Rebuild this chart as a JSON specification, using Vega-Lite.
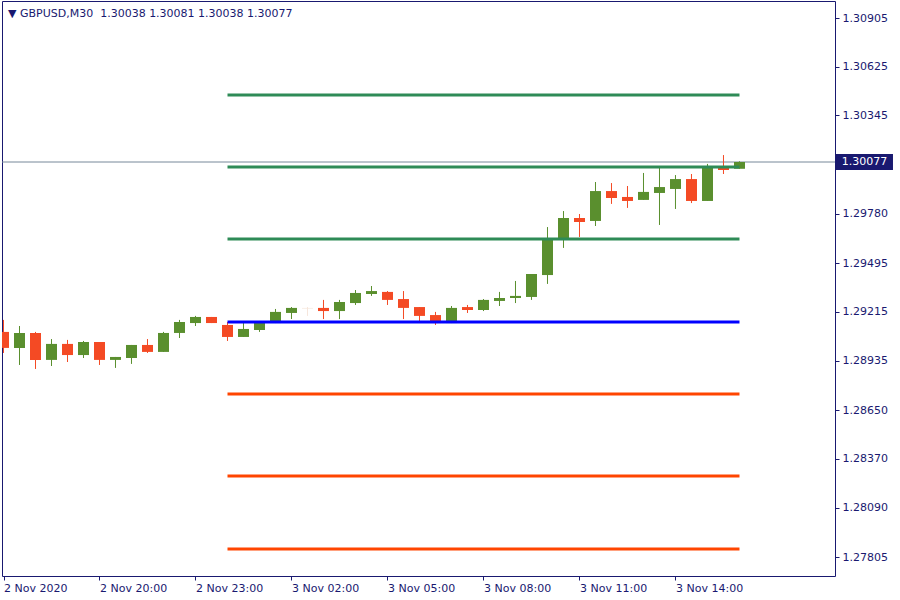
{
  "$schema": "https://vega.github.io/schema/vega-lite/v6.json",
  "width": 833,
  "height": 575,
  "autosize": "none",
  "padding": {"left": 2, "top": 1, "right": 65, "bottom": 24},
  "background": "white",
  "config": {
    "view": {"stroke": "#191970", "strokeWidth": 1},
    "font": "DejaVu Sans"
  },
  "title": {
    "text": "▼ GBPUSD,M30\u00a0\u00a01.30038 1.30081 1.30038 1.30077",
    "orient": "top",
    "anchor": "start",
    "frame": "group",
    "baseline": "top",
    "offset": -18,
    "dx": 6,
    "fontSize": 11,
    "fontWeight": "normal",
    "color": "#191970",
    "font": "DejaVu Sans"
  },
  "resolve": {"scale": {"color": "independent"}},
  "datasets": {
    "candles": [
      {"t": "2020-11-02T17:00:00Z", "o": 1.29100, "h": 1.29169, "l": 1.28979, "c": 1.29008, "dir": "down"},
      {"t": "2020-11-02T17:30:00Z", "o": 1.29008, "h": 1.29134, "l": 1.28910, "c": 1.29094, "dir": "up"},
      {"t": "2020-11-02T18:00:00Z", "o": 1.29094, "h": 1.29100, "l": 1.28887, "c": 1.28939, "dir": "down"},
      {"t": "2020-11-02T18:30:00Z", "o": 1.28939, "h": 1.29059, "l": 1.28904, "c": 1.29031, "dir": "up"},
      {"t": "2020-11-02T19:00:00Z", "o": 1.29031, "h": 1.29054, "l": 1.28927, "c": 1.28967, "dir": "down"},
      {"t": "2020-11-02T19:30:00Z", "o": 1.28967, "h": 1.29048, "l": 1.28950, "c": 1.29042, "dir": "up"},
      {"t": "2020-11-02T20:00:00Z", "o": 1.29042, "h": 1.29042, "l": 1.28910, "c": 1.28939, "dir": "down"},
      {"t": "2020-11-02T20:30:00Z", "o": 1.28939, "h": 1.28956, "l": 1.28893, "c": 1.28956, "dir": "up"},
      {"t": "2020-11-02T21:00:00Z", "o": 1.28950, "h": 1.29025, "l": 1.28916, "c": 1.29025, "dir": "up"},
      {"t": "2020-11-02T21:30:00Z", "o": 1.29025, "h": 1.29059, "l": 1.28979, "c": 1.28985, "dir": "down"},
      {"t": "2020-11-02T22:00:00Z", "o": 1.28985, "h": 1.29100, "l": 1.28985, "c": 1.29094, "dir": "up"},
      {"t": "2020-11-02T22:30:00Z", "o": 1.29094, "h": 1.29169, "l": 1.29065, "c": 1.29157, "dir": "up"},
      {"t": "2020-11-02T23:00:00Z", "o": 1.29151, "h": 1.29192, "l": 1.29134, "c": 1.29186, "dir": "up"},
      {"t": "2020-11-02T23:30:00Z", "o": 1.29186, "h": 1.29186, "l": 1.29151, "c": 1.29151, "dir": "down"},
      {"t": "2020-11-03T00:00:00Z", "o": 1.29140, "h": 1.29157, "l": 1.29048, "c": 1.29071, "dir": "down"},
      {"t": "2020-11-03T00:30:00Z", "o": 1.29071, "h": 1.29151, "l": 1.29071, "c": 1.29117, "dir": "up"},
      {"t": "2020-11-03T01:00:00Z", "o": 1.29111, "h": 1.29163, "l": 1.29100, "c": 1.29157, "dir": "up"},
      {"t": "2020-11-03T01:30:00Z", "o": 1.29151, "h": 1.29232, "l": 1.29151, "c": 1.29215, "dir": "up"},
      {"t": "2020-11-03T02:00:00Z", "o": 1.29209, "h": 1.29243, "l": 1.29174, "c": 1.29238, "dir": "up"},
      {"t": "2020-11-03T02:30:00Z", "o": 1.29238, "h": 1.29243, "l": 1.29192, "c": 1.29234, "dir": "faint"},
      {"t": "2020-11-03T03:00:00Z", "o": 1.29238, "h": 1.29284, "l": 1.29174, "c": 1.29220, "dir": "down"},
      {"t": "2020-11-03T03:30:00Z", "o": 1.29220, "h": 1.29284, "l": 1.29174, "c": 1.29272, "dir": "up"},
      {"t": "2020-11-03T04:00:00Z", "o": 1.29266, "h": 1.29341, "l": 1.29255, "c": 1.29324, "dir": "up"},
      {"t": "2020-11-03T04:30:00Z", "o": 1.29318, "h": 1.29364, "l": 1.29307, "c": 1.29335, "dir": "up"},
      {"t": "2020-11-03T05:00:00Z", "o": 1.29330, "h": 1.29335, "l": 1.29255, "c": 1.29284, "dir": "down"},
      {"t": "2020-11-03T05:30:00Z", "o": 1.29289, "h": 1.29335, "l": 1.29174, "c": 1.29238, "dir": "down"},
      {"t": "2020-11-03T06:00:00Z", "o": 1.29243, "h": 1.29243, "l": 1.29157, "c": 1.29192, "dir": "down"},
      {"t": "2020-11-03T06:30:00Z", "o": 1.29197, "h": 1.29215, "l": 1.29140, "c": 1.29151, "dir": "down"},
      {"t": "2020-11-03T07:00:00Z", "o": 1.29151, "h": 1.29249, "l": 1.29151, "c": 1.29238, "dir": "up"},
      {"t": "2020-11-03T07:30:00Z", "o": 1.29243, "h": 1.29255, "l": 1.29209, "c": 1.29226, "dir": "down"},
      {"t": "2020-11-03T08:00:00Z", "o": 1.29226, "h": 1.29289, "l": 1.29220, "c": 1.29284, "dir": "up"},
      {"t": "2020-11-03T08:30:00Z", "o": 1.29278, "h": 1.29330, "l": 1.29249, "c": 1.29295, "dir": "up"},
      {"t": "2020-11-03T09:00:00Z", "o": 1.29295, "h": 1.29393, "l": 1.29266, "c": 1.29307, "dir": "up"},
      {"t": "2020-11-03T09:30:00Z", "o": 1.29301, "h": 1.29433, "l": 1.29284, "c": 1.29433, "dir": "up"},
      {"t": "2020-11-03T10:00:00Z", "o": 1.29427, "h": 1.29703, "l": 1.29376, "c": 1.29640, "dir": "up"},
      {"t": "2020-11-03T10:30:00Z", "o": 1.29634, "h": 1.29795, "l": 1.29583, "c": 1.29755, "dir": "up"},
      {"t": "2020-11-03T11:00:00Z", "o": 1.29755, "h": 1.29778, "l": 1.29646, "c": 1.29732, "dir": "down"},
      {"t": "2020-11-03T11:30:00Z", "o": 1.29738, "h": 1.29962, "l": 1.29709, "c": 1.29910, "dir": "up"},
      {"t": "2020-11-03T12:00:00Z", "o": 1.29910, "h": 1.29956, "l": 1.29836, "c": 1.29870, "dir": "down"},
      {"t": "2020-11-03T12:30:00Z", "o": 1.29876, "h": 1.29939, "l": 1.29813, "c": 1.29853, "dir": "down"},
      {"t": "2020-11-03T13:00:00Z", "o": 1.29859, "h": 1.30014, "l": 1.29859, "c": 1.29905, "dir": "up"},
      {"t": "2020-11-03T13:30:00Z", "o": 1.29899, "h": 1.30043, "l": 1.29715, "c": 1.29933, "dir": "up"},
      {"t": "2020-11-03T14:00:00Z", "o": 1.29922, "h": 1.30002, "l": 1.29807, "c": 1.29979, "dir": "up"},
      {"t": "2020-11-03T14:30:00Z", "o": 1.29979, "h": 1.30008, "l": 1.29841, "c": 1.29853, "dir": "down"},
      {"t": "2020-11-03T15:00:00Z", "o": 1.29853, "h": 1.30066, "l": 1.29853, "c": 1.30048, "dir": "up"},
      {"t": "2020-11-03T15:30:00Z", "o": 1.30048, "h": 1.30117, "l": 1.30008, "c": 1.30031, "dir": "down"},
      {"t": "2020-11-03T16:00:00Z", "o": 1.30038, "h": 1.30081, "l": 1.30038, "c": 1.30077, "dir": "up"}
    ],
    "levels": [
      {"name": "R3", "value": 1.30462, "kind": "resistance", "start": "2020-11-03T00:00:00Z", "end": "2020-11-03T16:00:00Z"},
      {"name": "R2", "value": 1.30048, "kind": "resistance", "start": "2020-11-03T00:00:00Z", "end": "2020-11-03T16:00:00Z"},
      {"name": "R1", "value": 1.29634, "kind": "resistance", "start": "2020-11-03T00:00:00Z", "end": "2020-11-03T16:00:00Z"},
      {"name": "P", "value": 1.29157, "kind": "pivot", "start": "2020-11-03T00:00:00Z", "end": "2020-11-03T16:00:00Z"},
      {"name": "S1", "value": 1.28743, "kind": "support", "start": "2020-11-03T00:00:00Z", "end": "2020-11-03T16:00:00Z"},
      {"name": "S2", "value": 1.28272, "kind": "support", "start": "2020-11-03T00:00:00Z", "end": "2020-11-03T16:00:00Z"},
      {"name": "S3", "value": 1.27852, "kind": "support", "start": "2020-11-03T00:00:00Z", "end": "2020-11-03T16:00:00Z"}
    ],
    "current": [
      {"t": "2020-11-03T16:00:00Z", "price": 1.30077, "label": "1.30077"}
    ]
  },
  "encoding": {
    "x": {
      "field": "t",
      "type": "temporal",
      "scale": {
        "type": "utc",
        "domain": [
          {"year": 2020, "month": 11, "date": 2, "hours": 16, "minutes": 57, "seconds": 11, "utc": true},
          {"year": 2020, "month": 11, "date": 3, "hours": 18, "minutes": 59, "seconds": 6, "utc": true}
        ],
        "nice": false,
        "padding": 0
      },
      "axis": {
        "title": null,
        "orient": "bottom",
        "values": [
          {"year": 2020, "month": 11, "date": 2, "hours": 17, "utc": true},
          {"year": 2020, "month": 11, "date": 2, "hours": 20, "utc": true},
          {"year": 2020, "month": 11, "date": 2, "hours": 23, "utc": true},
          {"year": 2020, "month": 11, "date": 3, "hours": 2, "utc": true},
          {"year": 2020, "month": 11, "date": 3, "hours": 5, "utc": true},
          {"year": 2020, "month": 11, "date": 3, "hours": 8, "utc": true},
          {"year": 2020, "month": 11, "date": 3, "hours": 11, "utc": true},
          {"year": 2020, "month": 11, "date": 3, "hours": 14, "utc": true}
        ],
        "labelExpr": "utcFormat(datum.value, '%H:%M') == '17:00' ? '2 Nov 2020' : utcFormat(datum.value, '%-d %b %H:%M')",
        "labelAlign": "left",
        "labelBaseline": "top",
        "labelPadding": 2,
        "labelFont": "DejaVu Sans",
        "labelFontSize": 11,
        "labelColor": "#191970",
        "labelFlush": false,
        "labelOverlap": false,
        "tickColor": "#191970",
        "tickSize": 4,
        "domain": false,
        "grid": false
      }
    },
    "y": {
      "type": "quantitative",
      "scale": {"domain": [1.276965, 1.310028], "nice": false, "zero": false},
      "axis": {
        "title": null,
        "orient": "right",
        "values": [1.30905, 1.30625, 1.30345, 1.2978, 1.29495, 1.29215, 1.28935, 1.2865, 1.2837, 1.2809, 1.27805],
        "format": ".5f",
        "labelFont": "DejaVu Sans",
        "labelFontSize": 11,
        "labelColor": "#191970",
        "labelPadding": 3,
        "tickColor": "#191970",
        "tickSize": 4,
        "domain": false,
        "grid": false
      }
    }
  },
  "layer": [
    {
      "data": {"name": "current"},
      "mark": {"type": "rule", "color": "#778899", "strokeWidth": 1},
      "encoding": {"x": null, "y": {"field": "price", "type": "quantitative"}}
    },
    {
      "data": {"name": "candles"},
      "mark": {"type": "rule", "strokeWidth": 1, "clip": true},
      "encoding": {
        "y": {"field": "l", "type": "quantitative"},
        "y2": {"field": "h"},
        "color": {
          "field": "dir",
          "type": "nominal",
          "scale": {"domain": ["up", "down", "faint"], "range": ["#5a8f2e", "#f44a24", "#f6e6dc"]},
          "legend": null
        }
      }
    },
    {
      "data": {"name": "candles"},
      "mark": {"type": "bar", "size": 11, "clip": true},
      "encoding": {
        "y": {"field": "o", "type": "quantitative"},
        "y2": {"field": "c"},
        "color": {
          "field": "dir",
          "type": "nominal",
          "scale": {"domain": ["up", "down", "faint"], "range": ["#5a8f2e", "#f44a24", "#f6e6dc"]},
          "legend": null
        }
      }
    },
    {
      "data": {"name": "levels"},
      "mark": {"type": "rule", "strokeWidth": 3},
      "encoding": {
        "x": {"field": "start", "type": "temporal"},
        "x2": {"field": "end"},
        "y": {"field": "value", "type": "quantitative"},
        "color": {
          "field": "kind",
          "type": "nominal",
          "scale": {"domain": ["resistance", "pivot", "support"], "range": ["#2e8b57", "#0000ff", "#ff4500"]},
          "legend": null
        }
      }
    },
    {
      "data": {"name": "current"},
      "mark": {
        "type": "point",
        "shape": "M-1,-0.2807L1,-0.2807L1,0.2807L-1,0.2807Z",
        "size": 3249,
        "filled": true,
        "color": "#191970",
        "opacity": 1,
        "strokeWidth": 0,
        "xOffset": 125,
        "clip": false
      },
      "encoding": {
        "y": {"field": "price", "type": "quantitative"}
      }
    },
    {
      "data": {"name": "current"},
      "mark": {"type": "text", "color": "white", "font": "DejaVu Sans", "fontSize": 11, "align": "center", "baseline": "middle", "dx": 125, "clip": false},
      "encoding": {
        "y": {"field": "price", "type": "quantitative"},
        "text": {"field": "label"}
      }
    }
  ]
}
